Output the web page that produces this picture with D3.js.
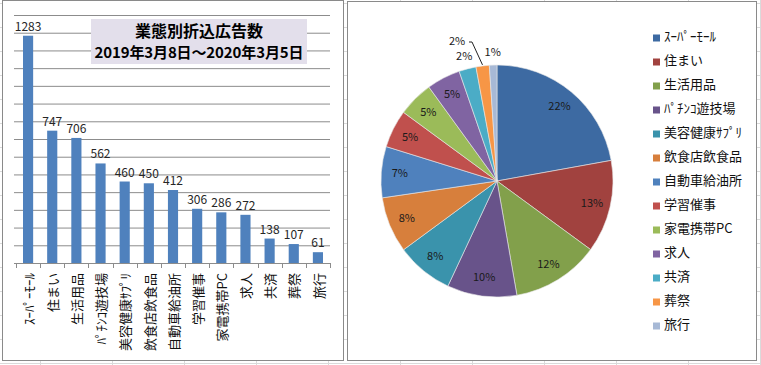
<!DOCTYPE html>
<html>
<head>
<meta charset="utf-8">
<script src="https://cdn.jsdelivr.net/npm/d3@7"></script>
<style>
  body { margin: 0; background: #fff; }
  text { font-family: "Noto Sans CJK JP", "Noto Sans", sans-serif; }
</style>
</head>
<body>
<div class="canvas"></div>
<script>
// data
const categories = ['ｽｰﾊﾟｰﾓｰﾙ', '住まい', '生活用品', 'ﾊﾟﾁﾝｺ遊技場', '美容健康ｻﾌﾟﾘ', '飲食店飲食品',
                    '自動車給油所', '学習催事', '家電携帯PC', '求人', '共済', '葬祭', '旅行'];
const counts = [1283, 747, 706, 562, 460, 450, 412, 306, 286, 272, 138, 107, 61];
const yTicks = [0, 100, 200, 300, 400, 500, 600, 700, 800, 900, 1000, 1100, 1200, 1300, 1400];
const titleLines = ['業態別折込広告数', '2019年3月8日～2020年3月5日'];
const sliceColors = ['#3D6AA2', '#A1423F', '#82A04B', '#68538A', '#3A93AC', '#D77F3C',
                     '#4F81BD', '#C0504D', '#9BBB59', '#8064A2', '#4BACC6', '#F79646', '#A7B9D6'];

const W = 761, H = 365;

const svg = d3.select('.canvas')
              .append('svg')
              .attr('width', W)
              .attr('height', H);

// faint excel cells behind the charts
const cells = svg.append('g').attr('stroke', '#dadada').attr('stroke-width', 1);
d3.range(40, W, 72).forEach(cx => {
  cells.append('line').attr('x1', cx + 0.5).attr('x2', cx + 0.5).attr('y1', 0).attr('y2', H);
});
d3.range(363, 0, -24).forEach(cy => {
  cells.append('line').attr('x1', 0).attr('x2', W).attr('y1', cy + 0.5).attr('y2', cy + 0.5);
});

// ---------- left: bar chart ----------
const barBox = svg.append('g');
barBox.append('rect')
      .attr('x', 2.5).attr('y', 0.5)
      .attr('width', 341).attr('height', 360)
      .attr('fill', '#fff')
      .attr('stroke', '#8a8a8a');

const plot = { left: 16, right: 330, top: 15, bottom: 263 };

const x = d3.scaleBand().domain(categories).range([plot.left, plot.right]);
const y = d3.scaleLinear().domain([0, 1400]).range([plot.bottom, plot.top]);

// gridlines
const grid = d3.axisLeft(y)
               .tickValues(yTicks)
               .tickSize(-(plot.right - plot.left + 2))
               .tickFormat('');
barBox.append('g')
      .attr('transform', `translate(${plot.left - 2}, 0)`)
      .call(grid)
      .call(g => g.select('.domain').remove())
      .call(g => g.selectAll('line').attr('stroke', '#8c8c8c'));

// bars
const barW = x.bandwidth() * 0.42;
barBox.selectAll('rect.bar')
      .data(counts)
      .enter()
      .append('rect')
        .attr('class', 'bar')
        .attr('x', (d, i) => x(categories[i]) + (x.bandwidth() - barW) / 2)
        .attr('y', d => y(d))
        .attr('width', barW)
        .attr('height', d => y(0) - y(d))
        .attr('fill', '#4F81BD');

// value labels
barBox.selectAll('text.val')
      .data(counts)
      .enter()
      .append('text')
        .attr('class', 'val')
        .attr('x', (d, i) => x(categories[i]) + x.bandwidth() / 2)
        .attr('y', d => y(d) - 5)
        .attr('text-anchor', 'middle')
        .attr('font-size', 12)
        .attr('fill', '#262626')
        .text(d => d);

// category axis with ticks at band edges
const xAxisG = barBox.append('g');
xAxisG.append('line')
      .attr('x1', plot.left).attr('x2', plot.right)
      .attr('y1', plot.bottom + 0.5).attr('y2', plot.bottom + 0.5)
      .attr('stroke', '#8c8c8c');
d3.range(categories.length + 1).forEach(i => {
  const tx = Math.round(plot.left + i * x.step()) + 0.5;
  xAxisG.append('line')
        .attr('x1', tx).attr('x2', tx)
        .attr('y1', plot.bottom).attr('y2', plot.bottom + 5)
        .attr('stroke', '#8c8c8c');
});
xAxisG.selectAll('text')
      .data(categories)
      .enter()
      .append('text')
        .attr('transform', d => `translate(${x(d) + x.bandwidth() / 2 + 1}, ${plot.bottom + 10}) rotate(-90)`)
        .attr('dy', '0.36em')
        .attr('text-anchor', 'end')
        .attr('font-size', 13)
        .attr('fill', '#111')
        .text(d => d);

// title box
barBox.append('rect')
      .attr('x', 91).attr('y', 19)
      .attr('width', 216).attr('height', 45)
      .attr('fill', '#E3DFEB');
barBox.append('text')
      .attr('x', 199).attr('y', 37)
      .attr('text-anchor', 'middle')
      .attr('font-size', 16).attr('font-weight', 'bold')
      .text(titleLines[0]);
barBox.append('text')
      .attr('x', 199).attr('y', 58)
      .attr('text-anchor', 'middle')
      .attr('font-size', 15).attr('font-weight', 'bold')
      .attr('textLength', 209).attr('lengthAdjust', 'spacing')
      .text(titleLines[1]);

// ---------- right: pie chart ----------
const pieBox = svg.append('g');
pieBox.append('rect')
      .attr('x', 347.5).attr('y', 1.5)
      .attr('width', 409).attr('height', 359)
      .attr('fill', '#fff')
      .attr('stroke', '#8a8a8a');

const cx = 497, cy = 181, r = 116;
const total = d3.sum(counts);
const pie = d3.pie().sort(null).value(d => d);
const arcs = pie(counts);
const arc = d3.arc().innerRadius(0).outerRadius(r);
const labelArc = d3.arc().innerRadius(r * 0.84).outerRadius(r * 0.84);
const outerArc = d3.arc().innerRadius(r + 13).outerRadius(r + 13);

const pieG = pieBox.append('g').attr('transform', `translate(${cx}, ${cy})`);

pieG.selectAll('path')
    .data(arcs)
    .enter()
    .append('path')
      .attr('d', arc)
      .attr('fill', (d, i) => sliceColors[i])
      .attr('stroke', '#e8e8e8')
      .attr('stroke-width', 0.6);

const pct = d => Math.round(d.value / total * 100) + '%';

// labels inside the larger slices
pieG.selectAll('text.in')
    .data(arcs.filter(d => d.value / total > 0.03))
    .enter()
    .append('text')
      .attr('class', 'in')
      .attr('transform', d => `translate(${labelArc.centroid(d)})`)
      .attr('dy', '0.35em')
      .attr('text-anchor', 'middle')
      .attr('font-size', 11)
      .attr('fill', '#1a1a1a')
      .text(pct);

// small slices outside
const small = arcs.filter(d => d.value / total <= 0.03);
small.forEach((d, k) => {
  const [px, py] = outerArc.centroid(d);
  if (k === 1) {
    // pulled out label with a leader line
    const mid = (d.startAngle + d.endAngle) / 2;
    const lx = px - 24, ly = -r - 24;
    pieG.append('text')
        .attr('x', lx).attr('y', ly)
        .attr('dy', '0.35em')
        .attr('text-anchor', 'middle')
        .attr('font-size', 11)
        .attr('fill', '#1a1a1a')
        .text(pct(d));
    pieG.append('path')
        .attr('d', d3.line()([[lx + 12, ly + 1], [lx + 15, ly + 1],
                              [(r + 1) * Math.sin(mid), -(r + 1) * Math.cos(mid)]]))
        .attr('fill', 'none')
        .attr('stroke', '#222')
        .attr('stroke-width', 1);
  } else {
    pieG.append('text')
        .attr('x', px).attr('y', py)
        .attr('dy', '0.35em')
        .attr('text-anchor', 'middle')
        .attr('font-size', 11)
        .attr('fill', '#1a1a1a')
        .text(pct(d));
  }
});

// legend
const legend = pieBox.append('g').attr('transform', 'translate(653, 41)');
const items = legend.selectAll('g')
                    .data(categories)
                    .enter()
                    .append('g')
                    .attr('transform', (d, i) => `translate(0, ${i * 24})`);
items.append('rect')
     .attr('x', 0).attr('y', -6.5)
     .attr('width', 7).attr('height', 7)
     .attr('fill', (d, i) => sliceColors[i]);
items.append('text')
     .attr('x', 11).attr('y', 0)
     .attr('font-size', 13)
     .attr('fill', '#111')
     .text(d => d);
</script>
</body>
</html>
